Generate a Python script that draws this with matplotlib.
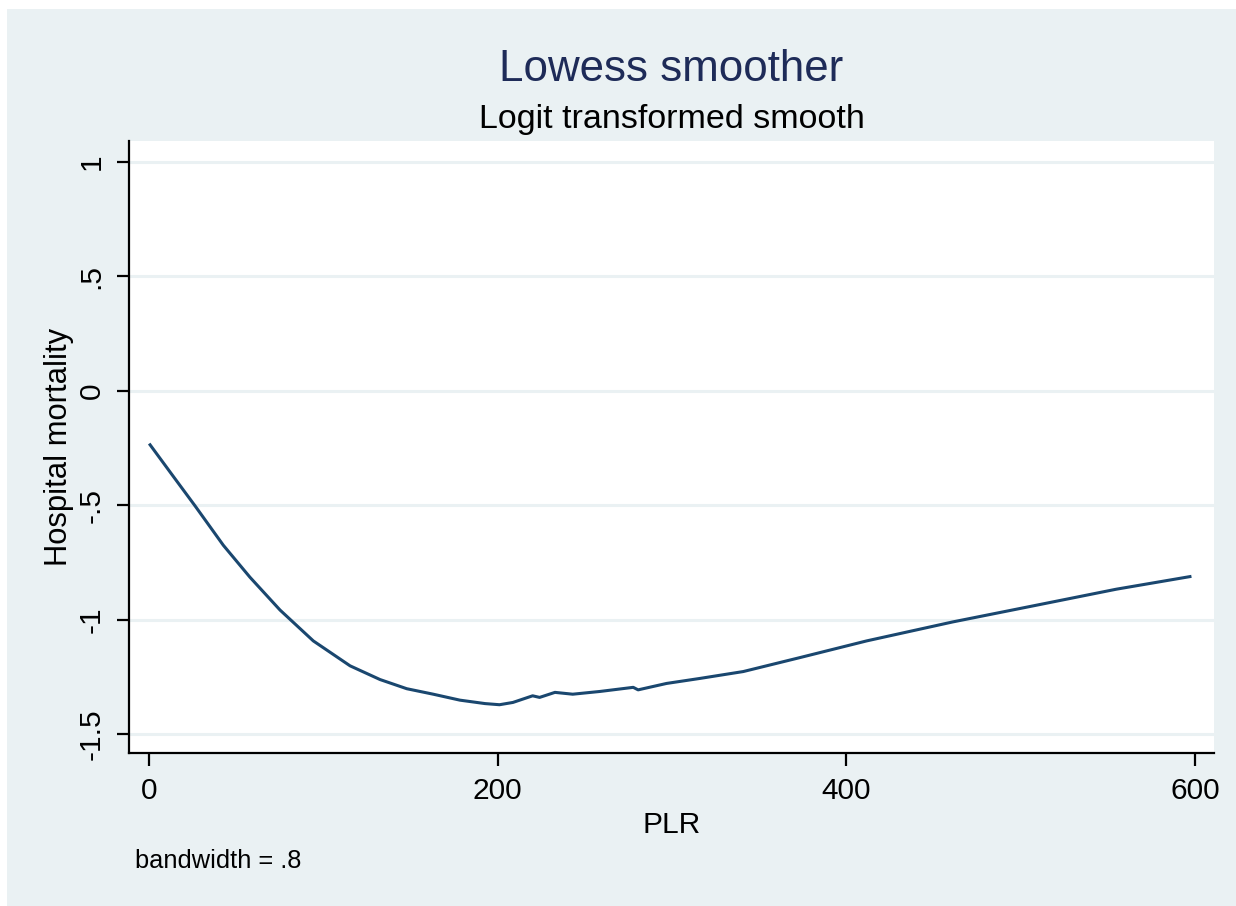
import numpy as np
import matplotlib.pyplot as plt
from matplotlib.patches import Rectangle

plt.rcParams['font.family'] = ['Liberation Sans', 'DejaVu Sans']

# lowess curve (PLR vs logit hospital mortality)
plr = [0.6, 14, 26.4, 42.6, 57.9, 75.1, 94.2, 115.3, 132.5, 147.8, 163, 178.3,
       192.7, 201, 208.7, 220, 224, 232.8, 243, 258.6, 277.7, 280.5, 296.8,
       316, 340.8, 373.3, 411.6, 461, 507, 554.8, 597]
mortality = [-0.236, -0.375, -0.503, -0.675, -0.815, -0.958, -1.093, -1.202,
             -1.262, -1.302, -1.326, -1.352, -1.367, -1.372, -1.362, -1.333,
             -1.34, -1.318, -1.326, -1.314, -1.296, -1.307, -1.279, -1.257,
             -1.227, -1.166, -1.093, -1.010, -0.940, -0.867, -0.812]

x_ticks = [0, 200, 400, 600]
y_ticks = [-1.5, -1, -0.5, 0, 0.5, 1]
y_tick_labels = ['-1.5', '-1', '-.5', '0', '.5', '1']

W, H = 1236, 906
bg = '#EAF1F3'
navy = '#1A476F'

fig = plt.figure(figsize=(W / 100, H / 100), dpi=100, facecolor='white')
fig.patches.append(Rectangle((7 / W, 0), 1, 1 - 9 / H, transform=fig.transFigure,
                             facecolor=bg, edgecolor='none', zorder=-10))

def fx(px):
    return px / W

def fy(py):
    return 1 - py / H

ax = fig.add_axes([fx(129), fy(753), (1214 - 129) / W, (753 - 141) / H])
ax.set_facecolor('white')

ax.plot(plr, mortality, color=navy, lw=2.2, zorder=3)

ax.set_xlim(-11.5, 610.8)
ax.set_ylim(-1.583, 1.092)
ax.set_xticks(x_ticks)
ax.set_yticks(y_ticks)
ax.set_yticklabels(y_tick_labels, rotation=90, va='center')

ax.yaxis.grid(True, color=bg, lw=2.2)
ax.set_axisbelow(True)

for side in ['top', 'right']:
    ax.spines[side].set_visible(False)
for side in ['left', 'bottom']:
    ax.spines[side].set_linewidth(1.6)
    ax.spines[side].set_color('black')

ax.tick_params(axis='both', length=9, width=1.6, labelsize=21.5)
ax.tick_params(axis='x', pad=8)
ax.tick_params(axis='y', pad=8)

fig.text(fx(671.5), fy(81), 'Lowess smoother', ha='center', va='baseline',
         fontsize=31.6, color='#1E2B58')
fig.text(fx(671.5), fy(128), 'Logit transformed smooth', ha='center',
         va='baseline', fontsize=24.5, color='black')
fig.text(fx(671.5), fy(833), 'PLR', ha='center', va='baseline', fontsize=21.5)
fig.text(fx(59), fy(447), 'Hospital mortality', ha='center', va='center',
         rotation=90, fontsize=22.3)
fig.text(fx(135), fy(868), 'bandwidth = .8', ha='left', va='baseline',
         fontsize=18.3)

fig.savefig('out.png', dpi=100, facecolor=fig.get_facecolor())
